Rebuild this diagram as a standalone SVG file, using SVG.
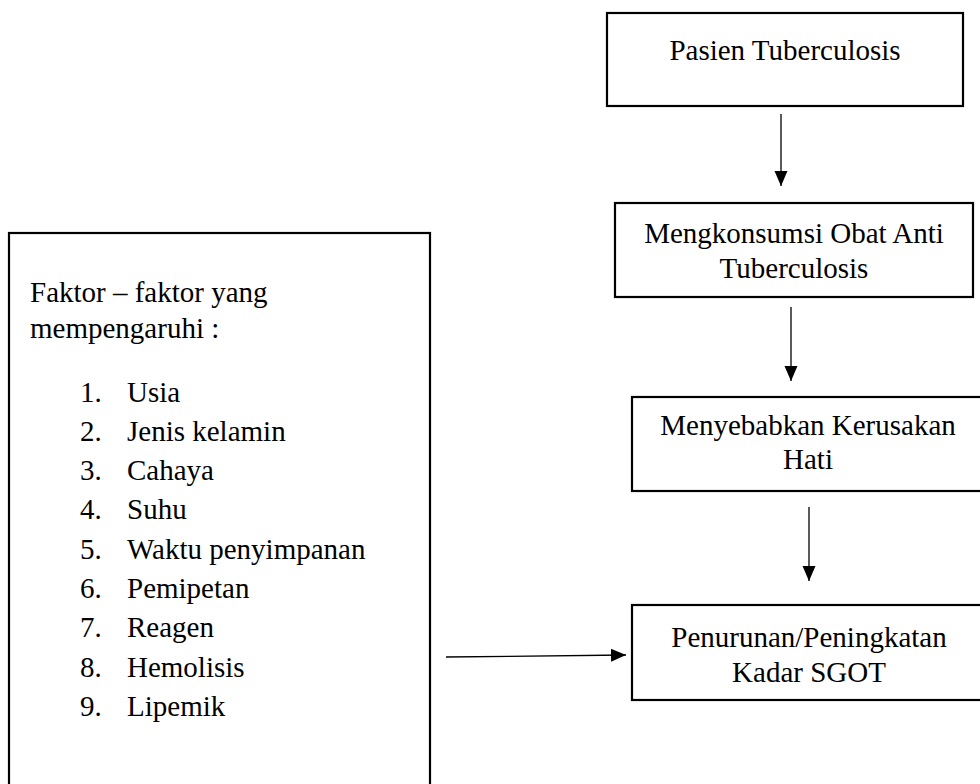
<svg xmlns="http://www.w3.org/2000/svg" width="980" height="784" viewBox="0 0 980 784">
<defs>
<style>
.box{fill:#fff;stroke:#000;stroke-width:2.2}
.t{font-family:"Liberation Serif","Times New Roman",serif;font-size:29px;fill:#000}
.c{text-anchor:middle}
.conn{stroke:#000;stroke-width:1.3;fill:none;marker-end:url(#ah)}
</style>
<marker id="ah" markerUnits="userSpaceOnUse" markerWidth="16" markerHeight="14" refX="15" refY="6.5" orient="auto">
<path d="M0,0 L15,6.5 L0,13 Z" fill="#000"/>
</marker>
</defs>
<rect width="980" height="784" fill="#fff"/>
<g id="faktor">
<rect class="box" x="9" y="233" width="421" height="600"/>
<text class="t" x="30" y="302">Faktor – faktor yang</text>
<text class="t" x="30" y="338">mempengaruhi :</text>
<text class="t" x="80" y="402">1.</text><text class="t" x="127" y="402">Usia</text>
<text class="t" x="80" y="441">2.</text><text class="t" x="127" y="441">Jenis kelamin</text>
<text class="t" x="80" y="480">3.</text><text class="t" x="127" y="480">Cahaya</text>
<text class="t" x="80" y="519">4.</text><text class="t" x="127" y="519">Suhu</text>
<text class="t" x="80" y="559">5.</text><text class="t" x="127" y="559">Waktu penyimpanan</text>
<text class="t" x="80" y="598">6.</text><text class="t" x="127" y="598">Pemipetan</text>
<text class="t" x="80" y="637">7.</text><text class="t" x="127" y="637">Reagen</text>
<text class="t" x="80" y="677">8.</text><text class="t" x="127" y="677">Hemolisis</text>
<text class="t" x="80" y="716">9.</text><text class="t" x="127" y="716">Lipemik</text>
</g>
<g id="pasien">
<rect class="box" x="607" y="13" width="356" height="93"/>
<text class="t c" x="785" y="60">Pasien Tuberculosis</text>
</g>
<g id="oat">
<rect class="box" x="615" y="203" width="358" height="94"/>
<text class="t c" x="794" y="243">Mengkonsumsi Obat Anti</text>
<text class="t c" x="794" y="278">Tuberculosis</text>
</g>
<g id="kerusakan">
<rect class="box" x="632" y="397" width="360" height="94"/>
<text class="t c" x="808" y="435">Menyebabkan Kerusakan</text>
<text class="t c" x="808" y="469">Hati</text>
</g>
<g id="sgot">
<rect class="box" x="632" y="605" width="360" height="95"/>
<text class="t c" x="809" y="647">Penurunan/Peningkatan</text>
<text class="t c" x="809" y="682">Kadar SGOT</text>
</g>
<g id="connectors">
<line class="conn" x1="781" y1="114" x2="781" y2="186"/>
<line class="conn" x1="791" y1="307" x2="791" y2="381"/>
<line class="conn" x1="809" y1="507" x2="809" y2="581"/>
<line class="conn" x1="446" y1="657" x2="626" y2="655"/>
</g>
</svg>
